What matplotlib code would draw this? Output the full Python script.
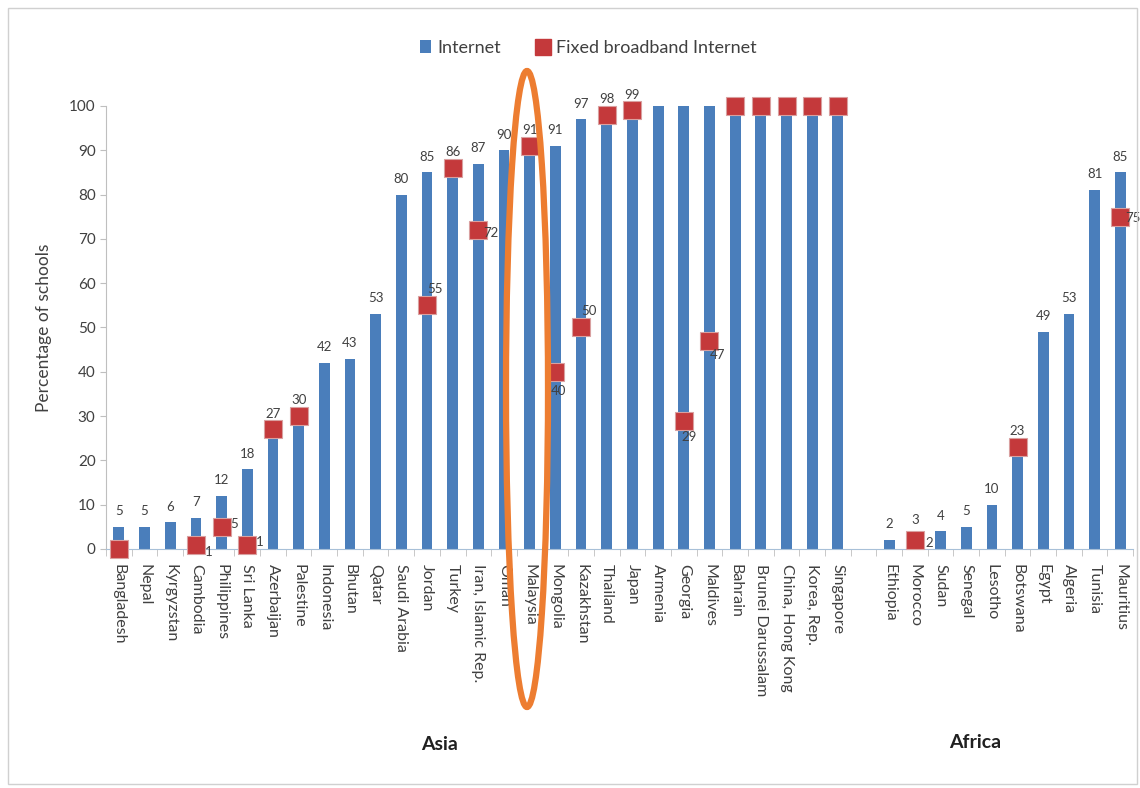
import matplotlib
matplotlib.use("Agg")
import matplotlib.pyplot as plt
from matplotlib.patches import Patch, Ellipse, Rectangle
from matplotlib.lines import Line2D
import numpy as np

plt.rcParams['font.family'] = ['Lato', 'DejaVu Sans']

asia = ["Bangladesh", "Nepal", "Kyrgyzstan", "Cambodia", "Philippines", "Sri Lanka",
        "Azerbaijan", "Palestine", "Indonesia", "Bhutan", "Qatar", "Saudi Arabia",
        "Jordan", "Turkey", "Iran, Islamic Rep.", "Oman", "Malaysia", "Mongolia",
        "Kazakhstan", "Thailand", "Japan", "Armenia", "Georgia", "Maldives", "Bahrain",
        "Brunei Darussalam", "China, Hong Kong", "Korea, Rep.", "Singapore"]
africa = ["Ethiopia", "Morocco", "Sudan", "Senegal", "Lesotho", "Botswana", "Egypt",
          "Algeria", "Tunisia", "Mauritius"]

internet_asia = [5, 5, 6, 7, 12, 18, 27, 30, 42, 43, 53, 80, 85, 86, 87, 90, 91, 91,
                 97, 98, 99, 100, 100, 100, 100, 100, 100, 100, 100]
internet_africa = [2, 3, 4, 5, 10, 23, 49, 53, 81, 85]

# fixed broadband (None = no value)
fixed_asia = [0, None, None, 1, 5, 1, 27, 30, None, None, None, None, 55, 86, 72, None,
              91, 40, 50, 98, 99, None, 29, 47, 100, 100, 100, 100, 100]
fixed_africa = [None, 2, None, None, None, 23, None, None, None, 75]

# which fixed-broadband values carry a label, with offset in points
fixed_label_off = {"Cambodia": (9, -5), "Philippines": (9, 2), "Sri Lanka": (9, 2),
                   "Jordan": (6, 12), "Iran, Islamic Rep.": (9, -2), "Mongolia": (2, -14),
                   "Kazakhstan": (6, 12), "Georgia": (4, -12), "Maldives": (6, -10),
                   "Morocco": (10, -2), "Mauritius": (9, -1)}

names = asia + [""] + africa
internet = internet_asia + [None] + internet_africa
fixed = fixed_asia + [None] + fixed_africa
x = np.arange(len(names))

blue = "#4A7EBB"
red = "#C4393B"
txt = "#404040"

fig = plt.figure(figsize=(11.4, 7.88), dpi=100)
ax = fig.add_axes([0.093, 0.3033, 0.901, 0.5622])

bx = [i for i, v in zip(x, internet) if v is not None]
bv = [v for v in internet if v is not None]
ax.bar(bx, bv, width=0.42, color=blue, zorder=2)

fx = [i for i, v in zip(x, fixed) if v is not None]
fv = [v for v in fixed if v is not None]
ax.plot(fx, fv, ls="none", marker="s", ms=13.5, mfc=red, mec="#D9A0A0", mew=0.8,
        zorder=3, clip_on=False)

for i, v in zip(bx, bv):
    if v < 100:
        ax.annotate(str(v), (i, v), xytext=(0, 7), textcoords="offset points",
                    ha="center", va="bottom", fontsize=9.5, color=txt)
for i, v, n in zip(x, fixed, names):
    if v is not None and n in fixed_label_off:
        ax.annotate(str(v), (i, v), xytext=fixed_label_off[n], textcoords="offset points",
                    ha="center", va="center", fontsize=9.5, color=txt, zorder=4)

ax.set_xlim(-0.5, len(names) - 0.5)
ax.set_ylim(0, 100)
ax.set_yticks(range(0, 101, 10))
ax.tick_params(axis="y", labelsize=11, colors=txt, length=4, color="#BFBFBF")
ax.set_xticks(x)
ax.set_xticklabels(names, rotation=270, fontsize=11.5, color=txt)
ax.tick_params(axis="x", length=0, pad=11)
ax.set_xticks(np.arange(-0.5, len(names), 1), minor=True)
ax.tick_params(axis="x", which="minor", length=5, color="#BFBFBF")
for s in ["top", "right"]:
    ax.spines[s].set_visible(False)
ax.spines["left"].set_color("#BFBFBF")
ax.spines["bottom"].set_color("#A8C0D8")
ax.set_ylabel("Percentage of schools", fontsize=12.5, color=txt, labelpad=12)

fig.text(440 / 1140, 1 - 745 / 788, "Asia", ha="center", va="center",
         fontsize=14, fontweight="bold", color="#202020")
fig.text(975 / 1140, 1 - 742 / 788, "Africa", ha="center", va="center",
         fontsize=14, fontweight="bold", color="#202020")

handles = [Patch(facecolor=blue, edgecolor="none"),
           Line2D([], [], ls="none", marker="s", ms=12, mfc=red, mec=red)]
fig.legend(handles, ["Internet", "Fixed broadband Internet"], loc="center",
           bbox_to_anchor=(588 / 1140, 1 - 48 / 788), ncol=2, frameon=False,
           fontsize=13, handlelength=0.6, handletextpad=0.4, columnspacing=2.0,
           labelcolor=txt)

fig.patches.append(Ellipse((527 / 1140, 1 - 389 / 788), 42 / 1140, 636 / 788,
                           transform=fig.transFigure, fill=False, ec="#ED7D31", lw=4.5,
                           zorder=10))
fig.patches.append(Rectangle((0.007, 0.005), 0.99, 0.985, transform=fig.transFigure,
                             fill=False, ec="#D0D0D0", lw=1))

fig.savefig("out.png", dpi=100)
